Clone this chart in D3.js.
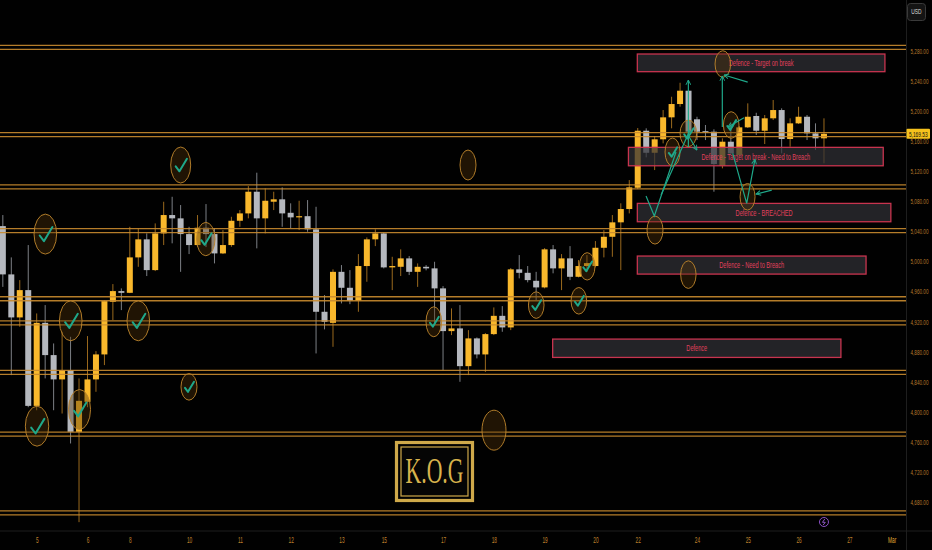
<!DOCTYPE html>
<html><head><meta charset="utf-8">
<script src="https://cdn.jsdelivr.net/npm/d3@7"></script>
<style>html,body{margin:0;padding:0;background:#000;} svg{display:block}</style>
</head><body>
<svg id="c" width="932" height="550"></svg>
<script>
// ---- DATA (4H candles, bar index 0..97) ----
const opens = [5046.8,4982.6,4925.4,4961.7,4807.8,4918.2,4875.3,4843,4855.3,4773.3,
4813.2,4843,4876.2,4946.2,4960.4,4958.1,5005.2,5029.2,4988.3,5037.1,
5061.5,5057.1,5036.2,5021.6,5044.6,5036.2,5010.5,5021.6,5053.9,5063.7,
5092.5,5057.1,5079.2,5082.4,5064.5,5058.4,5060,5042.5,4932.9,4918.2,
4986,4964.8,4947.5,4993.7,5029.2,5037.1,4991.9,4992.7,5003.9,4986,
4992.7,4990.6,4964,4907.2,4910.8,4860.6,4897.5,4876.2,4903.2,4927.5,
4912.1,4989.3,4984.7,4974.1,4965.3,5015.9,4990.6,5003.9,4979.4,4993.7,
4993.7,5018,5032.6,5051.8,5069.5,5097.8,5173.6,5144.3,5162.2,5191.4,
5209.1,5226.8,5188.8,5173,5172.3,5126.7,5159,5141.3,5178.1,5193.2,
5173.6,5190.1,5201.1,5162.6,5183.4,5192.2,5170.1,5163.5];
const highs = [5061.5,5005.2,4975,5021.6,4930.7,4941.8,4890.8,4906.3,4899.6,4844.3,
4900.6,4880.6,4948.4,4969.7,4964,5045.9,5043.8,5037.1,5050.4,5079.2,
5085.8,5074.8,5045.9,5061.5,5076.1,5043.8,5041.5,5059.2,5068.1,5100,
5117.8,5097,5092.5,5098.3,5077.1,5080.5,5081.4,5072.5,4955.1,4989.3,
4995,4988.3,5009.6,5031.8,5042.5,5038.5,5006,5015.9,5007,4997.2,
4995,4999.4,4967,4937.4,4941.8,4908.5,4898.8,4904.6,4938.7,4940.4,
4991,5008.3,4993.7,4986,5017.6,5021.6,5009.6,5020.2,5001.6,5008.3,
5026.9,5041.5,5061.5,5077.1,5108,5177.2,5176.8,5166.6,5201.1,5218.8,
5237.4,5227.7,5192.2,5181.2,5175.5,5163.5,5183.4,5179.9,5210,5197.5,
5194.5,5214.4,5203.4,5190.1,5205.5,5194.5,5183.4,5190.1];
const lows = [4966,4848.7,4913,4806,4802,4844.3,4802,4797.6,4757.8,4653.2,
4806,4826.5,4862,4921.9,4935.1,4957.7,4992.7,4980.4,4987,5021.6,
5023.9,4986,5009.6,5019.3,5018.9,4997.2,5009.6,5019.3,5045.9,5057.1,
5017.2,5037.1,5068.1,5045.9,5043.8,5041.5,5039.3,4877.5,4909.5,4886.3,
4944,4943,4932.9,4972.8,5020.2,4990.5,4961.7,4980.4,4981.7,4966,
4988,4915,4855.3,4901.9,4839.8,4848.7,4870.9,4853,4901.9,4906.3,
4908.5,4977.3,4972,4948.4,4964,4984,4961.7,4975,4978.6,4985.7,
4992,5005.2,5006,4988.3,5063.7,5096,5138.2,5121.3,5156.8,5176.8,
5205.5,5154.6,5161.2,5161.2,5092.5,5123.6,5141.3,5139,5177.2,5167.9,
5155.9,5187.8,5143.5,5152.3,5182.5,5161.2,5148,5130.3];
const closes = [4982.6,4925.4,4961.7,4807.8,4918.2,4875.3,4843,4855.3,4773.3,4814.5,
4843,4876.2,4947.1,4960.4,4958.1,5005.2,5029.2,4988.3,5037.1,5061.5,
5057.1,5036.2,5021.6,5044.6,5036.2,5010.5,5021.6,5053.9,5063.7,5092.5,
5057.1,5080.5,5082.4,5063.7,5058.4,5060,5042.5,4932.9,4919.6,4986,
4964.8,4947.5,4993.7,5029.2,5037.1,4991.9,4993.7,5003.9,4986,4992.7,
4990.6,4964,4907.2,4910.8,4860.6,4897.5,4876.2,4903.2,4927.5,4912.1,
4989.3,4984.7,4975,4965.3,5015.9,4990.6,5003.9,4979.4,4993.7,4997.6,
5018,5032.6,5051.8,5069.5,5098.3,5173.6,5144.3,5162.2,5191.4,5209.1,
5226.8,5172.3,5172.3,5171.5,5129.3,5159,5143.5,5178.1,5192.2,5173.6,
5190.1,5201.1,5162.6,5183.4,5192.2,5170.1,5163.5,5169.53];
const lastPrice = 5169.53;

const priceTicks = [4680,4720,4760,4800,4840,4880,4920,4960,5000,5040,5080,5120,5160,5200,5240,5280];
const dayLabels = ["5","6","8","10","11","12","13","15","17","18","19","20","22","24","25","26","27","Mar"];
const dayIndex  = [4,10,15,22,28,34,40,45,52,58,64,70,75,82,88,94,100,105];

// horizontal key levels (double lines)
const levels = [5284.5,5168.3,5098.9,5040.7,4950.2,4918.2,4852.3,4770.2,4665.5];

// defence zones
const boxLabels = ["Defence - Target on break","Defence - Target on break - Need to Breach","Defence - BREACHED","Defence - Need to Breach","Defence"];
const boxStart  = [74.95,73.9,74.95,74.95,64.95];
const boxEnd    = [104.2,104.0,104.9,101.97,99.0];
const boxTop    = [5275.6,5151.5,5077,5007,4896.6];
const boxBottom = [5252.1,5127,5052.6,4983,4872.2];

// reaction circles
const circleIdx   = [5.02,21.01,54.95,8.02,16.0,4.04,9.06,21.99,23.98,50.91,63.01,68.04,69.03,58.02,77.04,80.98,85.05,79.11,80.98,86.04,87.97];
const circlePrice = [5036.2,5128,5128,4920.9,4920.9,4780.8,4803,4833.1,5029.6,4919.6,4941.8,4947.5,4993.3,4775.5,5041.5,4982.3,5262.3,5145.3,5170.1,5181.2,5085.8];
const circleRx    = [11.3,10,8,11.3,11.3,11.7,11,8,9.2,7.8,7.8,7.8,7.8,12,8,7.7,7.8,7.5,8.3,7.8,7.5];
const circleRy    = [20,18,15,20,20,20,20,13.3,16.7,15,13.3,13.3,13.7,20,14,13.8,13.3,14,13.3,13.3,13.3];
const circleCheck = [1,1,0,1,1,1,1,1,1,1,1,1,1,0,0,0,0,1,1,1,0];

// green annotation strokes [barIndex, price]
const annoLines = [
  [[75.98,5086.8],[76.96,5060.2],[79.52,5145.3]],
  [[77.75,5088.1],[81.17,5174.5]],
  [[80.94,5167.9],[81.99,5147.9]],
  [[80.98,5151.9],[80.98,5241]],
  [[84.99,5178.5],[84.99,5246.4]],
  [[87.99,5238.3],[85.19,5247.7]],
  [[87.55,5190.9],[85.66,5178.5]],
  [[86.22,5143.5],[87.87,5077],[88.85,5135.6]],
  [[90.83,5094.7],[88.97,5089.4]]
];
const annoHead = [0,0,1,1,1,1,1,1,1];

// ---- CHART ----
const W = 932, H = 550, plotR = 906.5, plotB = 531;
const svg = d3.select("#c");
svg.append("rect").attr("width",W).attr("height",H).attr("fill","#010101");

const x = d3.scaleLinear().domain([0,105]).range([2.84,891.7]);
const y = d3.scaleLinear().domain([4680,5280]).range([502,50.7]);

// horizontally condense a text element around its anchor x
function squeeze(sel, f){
  sel.each(function(){
    const t = d3.select(this); const ax = +(t.attr("x")||0);
    t.attr("transform",`translate(${ax},0) scale(${f},1) translate(${-ax},0)`);
  });
}

const defs = svg.append("defs");
defs.append("clipPath").attr("id","plot").append("rect").attr("x",0).attr("y",0).attr("width",plotR).attr("height",plotB);
defs.append("marker").attr("id","ah").attr("viewBox","0 0 10 10").attr("refX",9).attr("refY",5)
  .attr("markerWidth",5).attr("markerHeight",5).attr("orient","auto")
  .append("path").attr("d","M1,1 L9,5 L1,9").attr("fill","none").attr("stroke","#1fa88a").attr("stroke-width",1.6);

const g = svg.append("g").attr("clip-path","url(#plot)");

const bars = d3.range(opens.length);
const bw = 6;
const bull = i => closes[i] >= opens[i];

// wicks
g.append("g").selectAll("line").data(bars).join("line")
  .attr("x1",i=>x(i)).attr("x2",i=>x(i))
  .attr("y1",i=>y(highs[i])).attr("y2",i=>y(lows[i]))
  .attr("stroke",i=>bull(i)?"#9b6a1e":"#7d8086").attr("stroke-width",1);
// bodies
g.append("g").selectAll("rect").data(bars).join("rect")
  .attr("x",i=>x(i)-bw/2).attr("width",bw)
  .attr("y",i=>y(Math.max(opens[i],closes[i])))
  .attr("height",i=>Math.max(1.2,Math.abs(y(opens[i])-y(closes[i]))))
  .attr("fill",i=>bull(i)?"#f9b82c":"#b5b8be");

// level double lines
const lv = g.append("g");
levels.forEach(p=>{
  [-2,2].forEach(o=>{
    lv.append("line").attr("x1",0).attr("x2",plotR).attr("y1",y(p)+o).attr("y2",y(p)+o)
      .attr("stroke","#c98b2f").attr("stroke-width",1.3).attr("opacity",0.9);
  });
});

// defence boxes
const bx = g.append("g");
boxLabels.forEach((t,i)=>{
  const x0=x(boxStart[i]), x1=x(boxEnd[i]), y0=y(boxTop[i]), y1=y(boxBottom[i]);
  bx.append("rect").attr("x",x0).attr("y",y0).attr("width",x1-x0).attr("height",y1-y0)
    .attr("fill","rgba(48,48,54,0.72)").attr("stroke","#c8344f").attr("stroke-width",1.3);
  const tx = bx.append("text").attr("x",(x0+x1)/2).attr("y",(y0+y1)/2+3)
    .attr("text-anchor","middle").attr("fill","#e0405c")
    .attr("font-family","Liberation Sans, Arial, sans-serif").attr("font-size",8.5).text(t);
  squeeze(tx, 0.66);
});

// circles
const cg = g.append("g");
circleIdx.forEach((c,i)=>{
  const cx=x(c), cy=y(circlePrice[i]);
  cg.append("ellipse").attr("cx",cx).attr("cy",cy).attr("rx",circleRx[i]).attr("ry",circleRy[i])
    .attr("fill","rgba(80,52,12,0.42)").attr("stroke","#b9822c").attr("stroke-width",1).attr("opacity",0.95);
  if(circleCheck[i]){
    const s = Math.min(circleRx[i],circleRy[i])/8;
    cg.append("path").attr("d",`M${cx-4*s},${cy+1*s} L${cx-1*s},${cy+5*s} L${cx+5*s},${cy-5*s}`)
      .attr("fill","none").attr("stroke","#1fa88a").attr("stroke-width",2).attr("stroke-linecap","round").attr("stroke-linejoin","round");
  }
});

// green annotations
const line = d3.line().x(d=>x(d[0])).y(d=>y(d[1]));
g.append("g").selectAll("path").data(annoLines).join("path")
  .attr("d",line).attr("fill","none").attr("stroke","#1fa88a").attr("stroke-width",1.2)
  .attr("marker-end",(d,i)=>annoHead[i]?"url(#ah)":null);

// KOG watermark logo
const lg = svg.append("g").attr("transform","translate(396.5,442.5)");
lg.append("rect").attr("width",76).attr("height",58).attr("fill","none").attr("stroke","#cfa94a").attr("stroke-width",3.2);
lg.append("rect").attr("x",4.5).attr("y",4.5).attr("width",67).attr("height",49).attr("fill","#050505").attr("stroke","#cfa94a").attr("stroke-width",1.2);
const kt = lg.append("text").attr("x",38).attr("y",41).attr("text-anchor","middle")
  .attr("fill","#d7b24c").attr("font-family","Liberation Serif, DejaVu Serif, serif").attr("font-size",35).text("K.O.G");
squeeze(kt, 58/kt.node().getComputedTextLength());

// axes
svg.append("line").attr("x1",0).attr("x2",W).attr("y1",plotB).attr("y2",plotB).attr("stroke","#1e1e1e");
svg.append("line").attr("x1",plotR).attr("x2",plotR).attr("y1",0).attr("y2",H).attr("stroke","#1e1e1e");

const yAxis = svg.append("g").attr("transform",`translate(${plotR},0)`)
  .call(d3.axisRight(y).tickValues(priceTicks).tickFormat(d3.format(",.2f")).tickSize(0).tickPadding(4));
yAxis.select(".domain").remove();
yAxis.selectAll("text").attr("fill","#b7792c").attr("font-family","Liberation Sans, Arial, sans-serif")
  .attr("font-size",8);
squeeze(yAxis.selectAll("text"), 0.58);

const xAxis = svg.append("g").attr("transform",`translate(0,${plotB})`)
  .call(d3.axisBottom(x).tickValues(dayIndex).tickFormat((d,i)=>dayLabels[i]).tickSize(0).tickPadding(6));
xAxis.select(".domain").remove();
xAxis.selectAll("text").attr("fill",(d,i)=>dayLabels[i]==="Mar"?"#e3ad33":"#c0822c")
  .attr("font-family","Liberation Sans, Arial, sans-serif").attr("font-size",8.5);
squeeze(xAxis.selectAll("text"), 0.56);

// last price label
const ly = y(lastPrice);
svg.append("rect").attr("x",plotR).attr("y",ly-5).attr("width",23.5).attr("height",10).attr("rx",1).attr("fill","#f6c21d");
const lpt = svg.append("text").attr("x",plotR+11.75).attr("y",ly+3).attr("text-anchor","middle").attr("fill","#111")
  .attr("font-family","Liberation Sans, Arial, sans-serif").attr("font-size",8).text(d3.format(",.2f")(lastPrice));
squeeze(lpt, 0.6);

// currency button
svg.append("rect").attr("x",907.5).attr("y",3.5).attr("width",18).attr("height",17).attr("rx",3).attr("fill","#141414").attr("stroke","#3a3a3a");
const usd = svg.append("text").attr("x",916.5).attr("y",14.5).attr("text-anchor","middle").attr("fill","#ddd")
  .attr("font-family","Liberation Sans, Arial, sans-serif").attr("font-size",7).text("USD");
squeeze(usd, 0.7);

// small event icon
const ex = x(97), ey = plotB-9;
svg.append("circle").attr("cx",ex).attr("cy",ey).attr("r",4.5).attr("fill","none").attr("stroke","#8a4fc4").attr("stroke-width",1);
svg.append("path").attr("d",`M${ex+0.8},${ey-3} L${ex-1.5},${ey+0.3} L${ex+1.3},${ey+0.3} L${ex-0.8},${ey+3}`).attr("fill","none").attr("stroke","#9a5fd4").attr("stroke-width",0.9);
</script>
</body></html>
